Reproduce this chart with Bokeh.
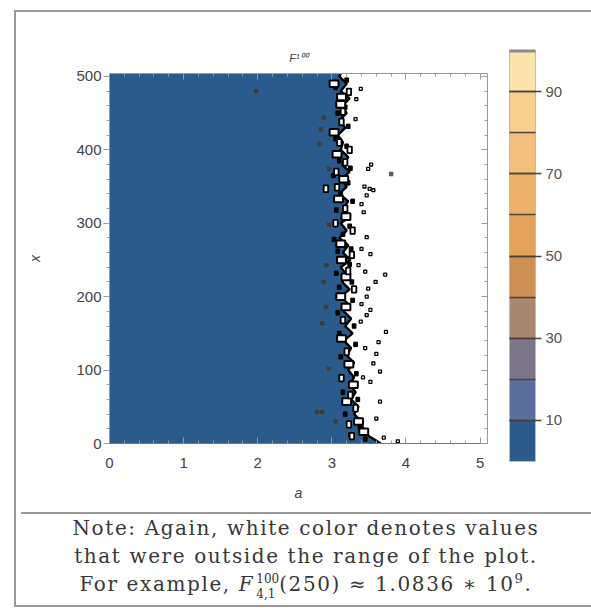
from bokeh.plotting import figure
from bokeh.models import LinearAxis, FixedTicker, Div, ColorBar, LinearColorMapper
from bokeh.layouts import column
from bokeh.embed import file_html
from bokeh.resources import INLINE

# ---------------- data ----------------
x_ticks = [0, 1, 2, 3, 4, 5]
y_ticks = [0, 100, 200, 300, 400, 500]
cbar_levels = [0, 10, 20, 30, 40, 50, 60, 70, 80, 90, 100]
cbar_ticks = [10, 30, 50, 70, 90]
band_colors = ["#2B5A8D", "#5A6D9B", "#7D7588", "#A7876F", "#CE9155",
               "#E4A25A", "#ECB26C", "#F2C07C", "#F7CF8E", "#FCE3AC"]

# right edge of the lowest band (a where F^100 leaves the plotted range)
edge_x = [504, 500, 490, 480, 470, 460, 450, 440, 430, 420, 410, 400, 390, 380,
          370, 360, 350, 340, 330, 320, 310, 300, 290, 280, 270, 260, 250, 240,
          230, 220, 210, 200, 190, 180, 170, 160, 150, 140, 130, 120, 110, 100,
          90, 80, 70, 60, 50, 40, 30, 20, 10, 5, 0]
edge_a = [3.12, 3.10, 3.20, 3.12, 3.24, 3.14, 3.20, 3.10, 3.18, 3.08, 3.15, 3.12,
          3.22, 3.14, 3.24, 3.12, 3.20, 3.10, 3.22, 3.15, 3.25, 3.12, 3.20, 3.10,
          3.22, 3.15, 3.25, 3.12, 3.20, 3.14, 3.24, 3.12, 3.22, 3.16, 3.26, 3.18,
          3.28, 3.16, 3.26, 3.20, 3.30, 3.22, 3.30, 3.24, 3.32, 3.26, 3.36, 3.30,
          3.40, 3.42, 3.50, 3.58, 3.66]

# larger out-of-range pockets along the edge
hole_a = [3.03, 3.13, 3.12, 3.03, 3.07, 3.16, 3.09, 3.19, 3.12, 3.13, 3.19, 3.12,
          3.13, 3.23, 3.29, 3.20, 3.36, 3.43, 3.19]
hole_x = [490, 472, 462, 424, 394, 360, 333, 309, 272, 250, 227, 200,
          143, 108, 80, 57, 30, 16, 186]
# smaller pockets
pock_a = [3.23, 3.13, 3.18, 2.92, 3.07, 3.27, 3.13, 3.32, 3.23, 3.27, 3.10, 3.05,
          3.15, 3.20, 3.25, 3.22, 3.18, 3.15, 3.28, 3.30, 3.06, 3.24]
pock_x = [479, 438, 383, 347, 349, 257, 89, 48, 26, 10, 410, 300,
          168, 125, 66, 235, 320, 452, 290, 210, 370, 400]

# dark contour fragments packed along the edge
dot_a = [3.05, 3.20, 3.18, 3.08, 3.22, 3.05, 3.20, 3.10, 3.25, 3.02, 3.22, 3.12,
         3.28, 3.06, 3.24, 3.15, 3.03, 3.26, 3.08, 3.24, 3.06, 3.27, 3.10, 3.28,
         3.08, 3.30, 3.10, 3.32, 3.12, 3.33, 3.15, 3.35, 3.18, 3.38, 3.25, 3.45]
dot_x = [485, 495, 458, 450, 432, 415, 405, 385, 375, 365, 355, 340,
         330, 318, 296, 285, 278, 265, 262, 244, 232, 220, 213, 195,
         178, 160, 150, 135, 118, 95, 70, 60, 40, 22, 12, 6]

# isolated out-of-range specks to the right of the edge
speck_a = [3.32, 3.39, 3.33, 3.53, 3.49, 3.44, 3.51, 3.56, 3.47, 3.40, 3.43, 3.47,
           3.40, 3.52, 3.36, 3.45, 3.59, 3.49, 3.72, 3.47, 3.40, 3.52, 3.47, 3.39,
           3.56, 3.65, 3.52, 3.65, 3.60, 3.73, 3.63, 3.60, 3.89, 3.70, 3.45, 3.42]
speck_x = [442, 483, 469, 380, 374, 350, 347, 345, 338, 326, 315, 281,
           265, 258, 243, 234, 220, 211, 230, 200, 190, 182, 175, 166,
           109, 98, 84, 57, 34, 152, 138, 122, 3, 8, 130, 90]

# small higher-valued patches inside the lowest band
blob_a = [2.89, 2.85, 2.83, 2.96, 2.96, 2.93, 2.89, 2.92, 2.87, 2.96, 2.87,
          2.80, 3.05, 1.98, 3.80]
blob_x = [444, 428, 408, 374, 298, 243, 220, 186, 164, 102, 43,
          43, 30, 480, 367]

# ---------------- main plot ----------------
FONT = "Liberation Sans"
GRAY = "#9a9a9a"
TXT = "#444444"

p = figure(width=570, height=495, x_range=(0, 5.1), y_range=(0, 504),
           output_backend="svg", toolbar_location=None,
           min_border_left=93, min_border_right=99,
           min_border_top=61, min_border_bottom=64,
           x_axis_label="a", y_axis_label="x")
p.grid.visible = False
p.outline_line_color = GRAY
p.background_fill_color = "white"
p.border_fill_color = "white"

p.title.text = "F\u00b9\u2070\u2070"
p.title.align = "center"
p.title.text_font = FONT
p.title.text_font_style = "italic"
p.title.text_font_size = "11px"
p.title.text_color = TXT
p.title.standoff = 19

xminor = [i * 0.2 for i in range(26)]
yminor = [i * 20 for i in range(26)]
for ax in p.xaxis:
    ax.ticker = FixedTicker(ticks=x_ticks, minor_ticks=xminor)
    ax.major_tick_in = 6
    ax.major_tick_out = 0
    ax.minor_tick_in = 3
    ax.minor_tick_out = 0
    ax.major_label_standoff = 14
    ax.axis_label_standoff = 14
    ax.axis_line_color = "#777777"
for ax in p.yaxis:
    ax.ticker = FixedTicker(ticks=y_ticks, minor_ticks=yminor)
    ax.major_tick_in = 0
    ax.major_tick_out = 6
    ax.minor_tick_in = 0
    ax.minor_tick_out = 3
    ax.major_label_standoff = 2
    ax.axis_label_standoff = 30
    ax.axis_line_color = GRAY
for ax in p.xaxis + p.yaxis:
    ax.major_tick_line_color = GRAY
    ax.minor_tick_line_color = GRAY
    ax.major_label_text_font = FONT
    ax.major_label_text_font_size = "15px"
    ax.major_label_text_color = TXT
    ax.axis_label_text_font = FONT
    ax.axis_label_text_font_size = "14px"
    ax.axis_label_text_font_style = "italic"
    ax.axis_label_text_color = TXT

# mirrored frame ticks (no labels) on top and right
top_ax = LinearAxis(ticker=FixedTicker(ticks=x_ticks, minor_ticks=xminor),
                    major_label_overrides={t: "" for t in x_ticks},
                    major_tick_in=6, major_tick_out=0,
                    minor_tick_in=3, minor_tick_out=0, axis_line_color=GRAY,
                    major_tick_line_color=GRAY, minor_tick_line_color=GRAY,
                    major_label_standoff=0)
right_ax = LinearAxis(ticker=FixedTicker(ticks=y_ticks, minor_ticks=yminor),
                      major_label_overrides={t: "" for t in y_ticks},
                      major_tick_in=6, major_tick_out=0,
                      minor_tick_in=3, minor_tick_out=0, axis_line_color=GRAY,
                      major_tick_line_color=GRAY, minor_tick_line_color=GRAY,
                      major_label_standoff=0)
p.add_layout(top_ax, "above")
p.add_layout(right_ax, "right")

# lowest band region and its noisy edge
p.harea(y=edge_x, x1=[0] * len(edge_x), x2=edge_a, fill_color=band_colors[0])
p.rect(x=blob_a, y=blob_x, width=0.06, height=6, fill_color="#4a3320",
       fill_alpha=0.8, line_color=None)
p.line(edge_a, edge_x, line_color="black", line_width=2.4)
p.rect(x=dot_a, y=dot_x, width=0.05, height=6, fill_color="black",
       line_color="black", line_width=1)
p.rect(x=hole_a, y=hole_x, width=0.12, height=9, fill_color="white",
       line_color="black", line_width=2)
p.rect(x=pock_a, y=pock_x, width=0.06, height=9, fill_color="white",
       line_color="black", line_width=1.8)
p.rect(x=speck_a, y=speck_x, width=0.04, height=4, fill_color="white",
       line_color="black", line_width=1.3)

# ---------------- colour bar ----------------
cmap = LinearColorMapper(palette=band_colors, low=cbar_levels[0], high=cbar_levels[-1])
cbar = ColorBar(color_mapper=cmap, width=26, height=411, location=(400, -18),
                padding=0, margin=0, background_fill_alpha=0, border_line_color=None,
                bar_line_color="#bbbbbb",
                ticker=FixedTicker(ticks=cbar_ticks, minor_ticks=cbar_levels[1:-1]),
                major_tick_in=26, major_tick_out=6, major_tick_line_color="#4a4238",
                major_tick_line_width=1.4,
                minor_tick_in=26, minor_tick_out=0, minor_tick_line_color="#4a4238",
                minor_tick_line_width=1.4,
                label_standoff=4, major_label_text_font=FONT,
                major_label_text_font_size="15px", major_label_text_color="#555555")
p.add_layout(cbar, "center")
# grey cap on top of the colour bar
p.add_layout(ColorBar(color_mapper=LinearColorMapper(palette=["#8a8a8a"], low=0, high=1),
                      width=26, height=3, location=(400, 391), padding=0, margin=0,
                      ticker=FixedTicker(ticks=[]),
                      background_fill_alpha=0, border_line_color=None, bar_line_color=None,
                      major_tick_line_color=None, minor_tick_line_color=None), "center")

# ---------------- note ----------------
note_html = (
    "Note: Again, white color denotes values<br>"
    "that were outside the range of the plot.<br>"
    "For example, <i>F</i><span style='display:inline-block;vertical-align:-0.55em;"
    "margin-left:2px;line-height:1.2;font-size:0.6em;text-align:left;"
    "letter-spacing:0'>100<br>4,1</span>(250)"
    " \u2248 1.0836 \u2217 10<sup style='font-size:0.66em;line-height:0'>9</sup>."
)
note = Div(text=note_html, width=570, height=88,
           styles={"border-top": "2px solid " + GRAY, "text-align": "center",
                   "font-family": "DejaVu Serif", "font-size": "20px",
                   "letter-spacing": "1.6px", "padding-top": "0px",
                   "line-height": "28px", "color": "#383838"})

layout = column(p, note, margin=(10, 0, 0, 14),
                styles={"border": "2px solid " + GRAY})

open("out.html", "w").write(file_html(layout, INLINE))
